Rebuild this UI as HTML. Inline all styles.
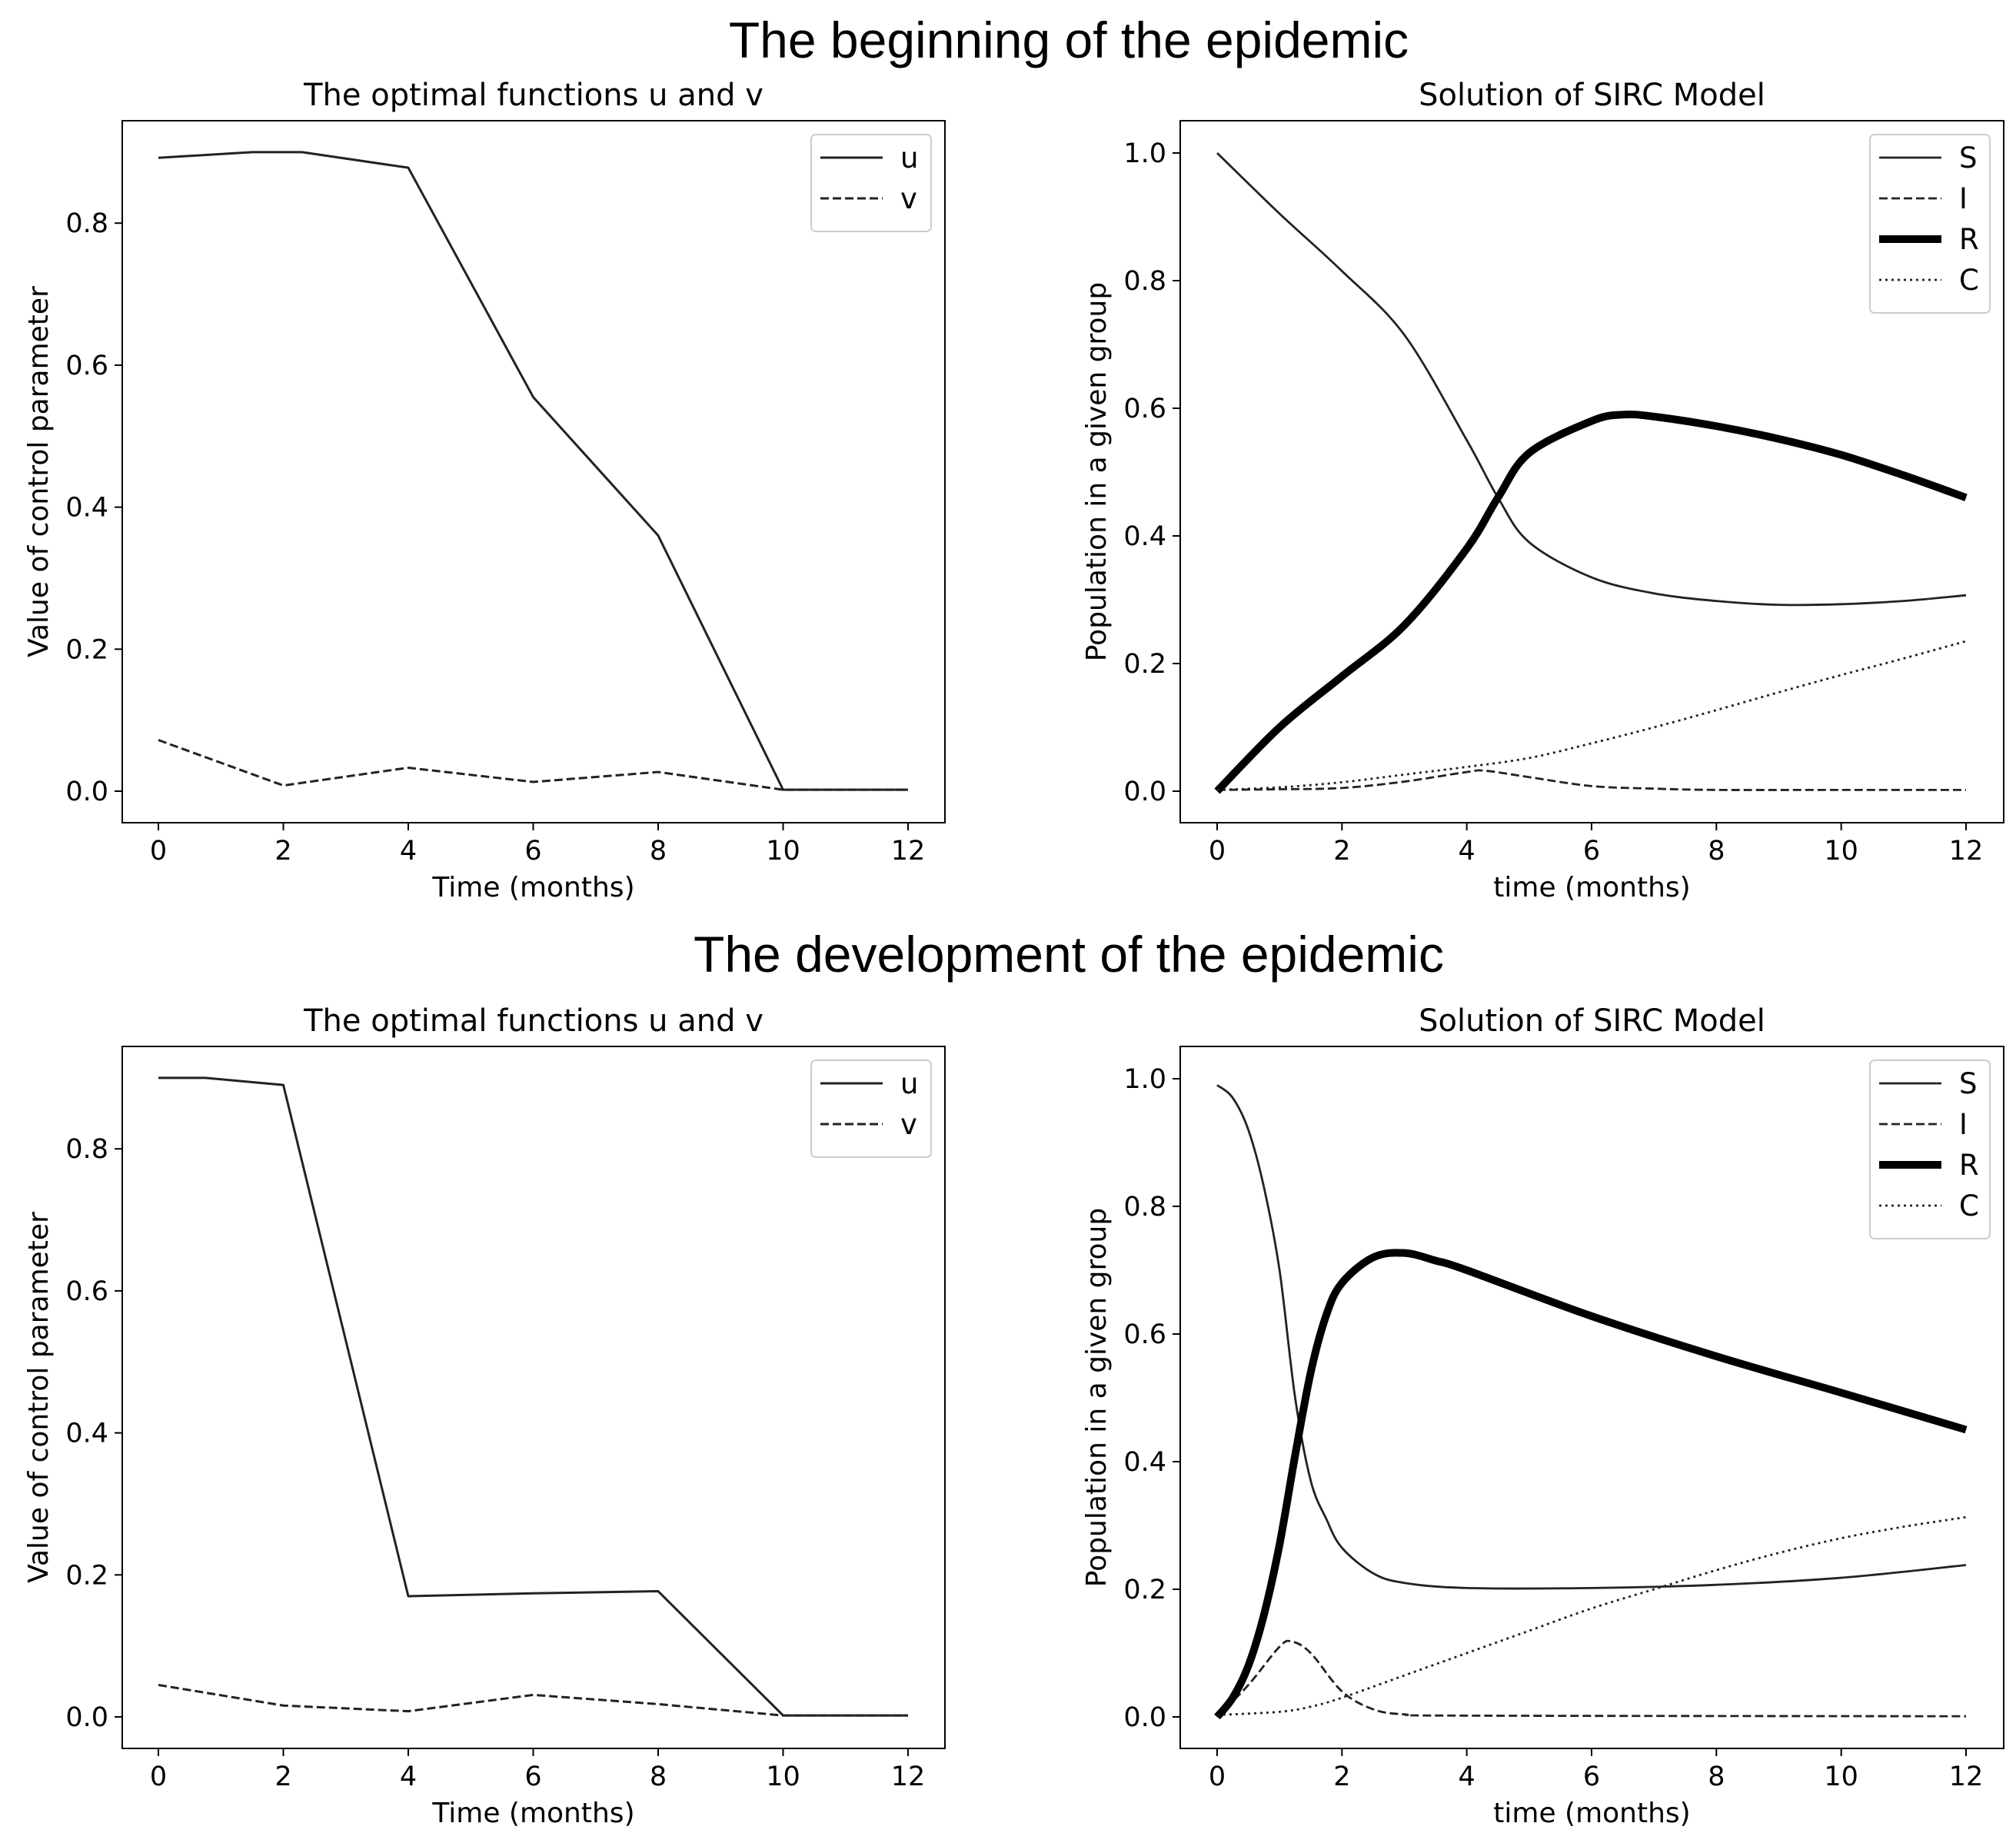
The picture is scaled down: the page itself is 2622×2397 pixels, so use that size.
<!DOCTYPE html>
<html><head><meta charset="utf-8"><style>
html,body{margin:0;padding:0;background:#fff}
svg{display:block}
text{font-family:"DejaVu Sans","Liberation Sans",sans-serif;fill:#000}
</style></head><body>
<svg id="fig" width="2622" height="2397" viewBox="0 0 2622 2397" xmlns="http://www.w3.org/2000/svg">
<text x="1390" y="75" text-anchor="middle" style="font-family:'Liberation Sans',sans-serif;font-size:66px">The beginning of the epidemic</text>
<text x="1390" y="1264" text-anchor="middle" style="font-family:'Liberation Sans',sans-serif;font-size:66px">The development of the epidemic</text>
</svg>
<script>
// ---- data ----
const uT1 = [0, 1.5, 2.3, 4, 6, 8, 10, 12];
const uV1 = [0.892, 0.9, 0.9, 0.878, 0.555, 0.36, 0.002, 0.002];
const vT1 = [0, 2, 4, 6, 8, 10, 12];
const vV1 = [0.072, 0.008, 0.033, 0.013, 0.027, 0.002, 0.002];
const uT2 = [0, 0.75, 2, 4, 6, 8, 10, 12];
const uV2 = [0.9, 0.9, 0.89, 0.17, 0.174, 0.177, 0.002, 0.002];
const vT2 = [0, 2, 4, 6, 8, 10, 12];
const vV2 = [0.045, 0.016, 0.008, 0.031, 0.018, 0.002, 0.002];

const sT1 = [0, 1, 2, 3, 4, 4.5, 5, 6, 7, 8, 9, 10, 11, 12];
const sV1 = [1.0, 0.905, 0.815, 0.715, 0.55, 0.46, 0.39, 0.335, 0.31, 0.298, 0.292, 0.293, 0.298, 0.307];
const rT1 = [0, 1, 2, 3, 4, 4.5, 5, 6, 6.5, 7, 8, 9, 10, 11, 12];
const rV1 = [0, 0.1, 0.18, 0.26, 0.38, 0.46, 0.53, 0.58, 0.59, 0.587, 0.572, 0.552, 0.527, 0.495, 0.46];
const iT1 = [0, 1, 2, 3, 4, 4.3, 5, 6, 7, 8, 10, 12];
const iV1 = [0.002, 0.003, 0.005, 0.015, 0.03, 0.032, 0.022, 0.008, 0.004, 0.002, 0.002, 0.002];
const cT1 = [0, 1, 2, 3, 4, 5, 6, 7, 8, 9, 10, 11, 12];
const cV1 = [0.002, 0.006, 0.014, 0.026, 0.038, 0.052, 0.075, 0.1, 0.127, 0.155, 0.182, 0.208, 0.235];

const sT2 = [0, 0.25, 0.5, 0.75, 1, 1.25, 1.5, 1.75, 2, 2.5, 3, 4, 6, 8, 10, 12];
const sV2 = [0.99, 0.97, 0.92, 0.83, 0.7, 0.5, 0.37, 0.31, 0.265, 0.225, 0.21, 0.202, 0.202, 0.207, 0.218, 0.238];
const rT2 = [0, 0.25, 0.5, 0.75, 1, 1.25, 1.5, 1.75, 2, 2.5, 3, 3.5, 4, 6, 8, 10, 12];
const rV2 = [0, 0.03, 0.08, 0.16, 0.27, 0.41, 0.54, 0.63, 0.68, 0.72, 0.727, 0.715, 0.7, 0.628, 0.565, 0.508, 0.45];
const iT2 = [0, 0.5, 1, 1.2, 1.5, 2, 2.5, 3, 4, 12];
const iV2 = [0, 0.05, 0.11, 0.118, 0.1, 0.04, 0.012, 0.004, 0.002, 0.001];
const cT2 = [0, 1, 1.5, 2, 3, 4, 5, 6, 7, 8, 9, 10, 11, 12];
const cV2 = [0.003, 0.008, 0.016, 0.03, 0.065, 0.1, 0.135, 0.17, 0.2, 0.23, 0.257, 0.28, 0.298, 0.313];

const xTicks = [0, 2, 4, 6, 8, 10, 12];
const yTicksL = [0.0, 0.2, 0.4, 0.6, 0.8];
const yTicksR = [0.0, 0.2, 0.4, 0.6, 0.8, 1.0];

const NS = 'http://www.w3.org/2000/svg';
const svg = document.getElementById('fig');
function mk(tag, attrs, parent) {
  const e = document.createElementNS(NS, tag);
  for (const k in attrs) e.setAttribute(k, attrs[k]);
  (parent || svg).appendChild(e);
  return e;
}
function smoothPath(pts) {
  let d = 'M' + pts[0][0] + ',' + pts[0][1];
  for (let i = 0; i < pts.length - 1; i++) {
    const p0 = pts[Math.max(0, i - 1)], p1 = pts[i], p2 = pts[i + 1], p3 = pts[Math.min(pts.length - 1, i + 2)];
    const c1 = [p1[0] + (p2[0] - p0[0]) / 6, p1[1] + (p2[1] - p0[1]) / 6];
    const c2 = [p2[0] - (p3[0] - p1[0]) / 6, p2[1] - (p3[1] - p1[1]) / 6];
    d += ' C' + c1[0] + ',' + c1[1] + ' ' + c2[0] + ',' + c2[1] + ' ' + p2[0] + ',' + p2[1];
  }
  return d;
}

function panel(opt) {
  const g = mk('g', {});
  
  
  const L = opt.left, R = opt.right, T = opt.top, B = opt.bottom;
  const xs = t => opt.x0 + (opt.x12 - opt.x0) * t / 12;
  const ys = v => opt.y0 - opt.yUnit * v;
  const title = mk('text', {x: (L + R) / 2, y: T - 20, 'text-anchor': 'middle', 'font-size': 40}, g);
  title.textContent = opt.title;
  
  
  opt.series.forEach(s => {
    const pts = s.t.map((t, i) => [xs(t), ys(s.v[i])]);
    const d = s.smooth ? smoothPath(pts) : 'M' + pts.map(p => p.join(',')).join(' L');
    const p = mk('path', {d: d, fill: 'none', stroke: s.color || '#000', 'stroke-width': s.w, 'stroke-dasharray': s.dash || 'none', 'stroke-linejoin': 'round'}, g);
    
    
  });
  const fr = mk('rect', {x: L, y: T, width: R - L, height: B - T, fill: 'none', stroke: '#000', 'stroke-width': 2}, g);
  
  
  xTicks.forEach(t => {
    mk('line', {x1: xs(t), x2: xs(t), y1: B, y2: B + 10, stroke: '#000', 'stroke-width': 2}, g);
    const tx = mk('text', {x: xs(t), y: B + 48, 'text-anchor': 'middle', 'font-size': 35}, g);
    tx.textContent = t;
    
    
  });
  opt.yTicks.forEach(v => {
    mk('line', {x1: L - 10, x2: L, y1: ys(v), y2: ys(v), stroke: '#000', 'stroke-width': 2}, g);
    const tx = mk('text', {x: L - 18, y: ys(v) + 12, 'text-anchor': 'end', 'font-size': 35}, g);
    tx.textContent = v.toFixed(1);
    
    
  });
  const xl = mk('text', {x: (L + R) / 2, y: B + 96, 'text-anchor': 'middle', 'font-size': 36}, g);
  xl.textContent = opt.xlabel;
  
  
  const yc = (T + B) / 2;
  const yl = mk('text', {x: opt.ylabelX, y: yc, 'text-anchor': 'middle', 'font-size': 36, transform: 'rotate(-90 ' + opt.ylabelX + ' ' + yc + ')'}, g);
  yl.textContent = opt.ylabel;
  
  
  const n = opt.series.length;
  const lw = 156, lh = 20 + n * 53;
  const lx = R - 18 - lw, ly = T + 18;
  const lg = mk('g', {}, g);
  
  
  mk('rect', {x: lx, y: ly, width: lw, height: lh, rx: 6, fill: '#fff', 'fill-opacity': 0.8, stroke: '#ccc', 'stroke-width': 2}, lg);
  opt.series.forEach((s, i) => {
    const yy = ly + 30 + i * 53;
    const e = mk('g', {}, lg);
    
    
    mk('line', {x1: lx + 12, x2: lx + 93, y1: yy, y2: yy, stroke: s.color || '#000', 'stroke-width': s.w, 'stroke-dasharray': s.dash || 'none'}, e);
    const t = mk('text', {x: lx + 116, y: yy + 13, 'font-size': 37}, e);
    t.textContent = s.label;
  });
}

const solid = '#222';
const rows = [0, 1204];
[0, 1].forEach(r => {
  const off = rows[r];
  panel({left: 159, right: 1229, top: 157 + off, bottom: 1070 + off, x0: 206, x12: 1181, y0: 1029 + off, yUnit: 923.5,
    yTicks: yTicksL, title: 'The optimal functions u and v', xlabel: 'Time (months)', ylabel: 'Value of control parameter', ylabelX: 62,
    name: r ? 'panel-controls-development' : 'panel-controls-beginning',
    series: [
      {label: 'u', t: r ? uT2 : uT1, v: r ? uV2 : uV1, w: 3, color: solid},
      {label: 'v', t: r ? vT2 : vT1, v: r ? vV2 : vV1, w: 3, color: solid, dash: '11 5'}
    ]});
  panel({left: 1535, right: 2606, top: 157 + off, bottom: 1070 + off, x0: 1583, x12: 2557, y0: 1029 + off, yUnit: 830,
    yTicks: yTicksR, title: 'Solution of SIRC Model', xlabel: 'time (months)', ylabel: 'Population in a given group', ylabelX: 1438,
    name: r ? 'panel-sirc-development' : 'panel-sirc-beginning',
    series: [
      {label: 'S', t: r ? sT2 : sT1, v: r ? sV2 : sV1, w: 2.8, color: solid, smooth: true},
      {label: 'I', t: r ? iT2 : iT1, v: r ? iV2 : iV1, w: 2.8, color: solid, dash: '11 5', smooth: true},
      {label: 'R', t: r ? rT2 : rT1, v: r ? rV2 : rV1, w: 10, color: '#000', smooth: true},
      {label: 'C', t: r ? cT2 : cT1, v: r ? cV2 : cV1, w: 2.8, color: solid, dash: '3 5', smooth: true}
    ]});
});
</script>
</body></html>
